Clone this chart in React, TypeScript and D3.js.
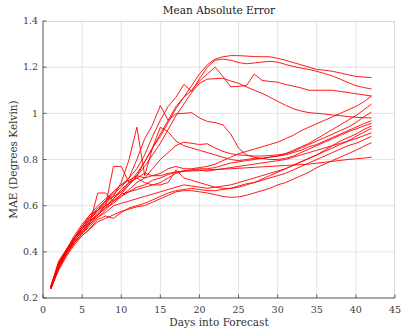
import * as d3 from 'd3'

const WIDTH = 404
const HEIGHT = 335
const MARGIN = {top: 21, right: 9, bottom: 37, left: 43}

const days = d3.range(1, 43)
const xTicks = [0, 5, 10, 15, 20, 25, 30, 35, 40, 45]
const yTicks = [0.2, 0.4, 0.6, 0.8, 1, 1.2, 1.4]

const run01 = [0.245,0.34,0.40,0.45,0.49,0.53,0.56,0.60,0.63,0.67,0.70,0.74,0.79,0.85,0.90,0.96,1.02,1.07,1.12,1.17,1.21,1.235,1.245,1.25,1.25,1.248,1.246,1.245,1.245,1.238,1.23,1.22,1.21,1.20,1.19,1.187,1.182,1.175,1.167,1.16,1.157,1.155]
const run02 = [0.25,0.35,0.41,0.46,0.50,0.54,0.58,0.62,0.66,0.69,0.72,0.76,0.82,0.90,0.97,1.03,1.07,1.125,1.095,1.15,1.2,1.23,1.235,1.23,1.22,1.215,1.218,1.222,1.225,1.222,1.212,1.203,1.196,1.19,1.182,1.172,1.162,1.148,1.133,1.12,1.112,1.105]
const run03 = [0.24,0.33,0.39,0.44,0.48,0.52,0.55,0.58,0.62,0.65,0.69,0.73,0.79,0.85,0.91,0.97,1.03,1.07,1.10,1.14,1.17,1.2,1.16,1.115,1.117,1.12,1.17,1.143,1.138,1.135,1.125,1.118,1.11,1.10,1.10,1.10,1.10,1.095,1.09,1.085,1.08,1.075]
const run04 = [0.25,0.35,0.40,0.45,0.49,0.52,0.56,0.59,0.63,0.66,0.69,0.73,0.77,0.82,0.87,0.93,0.99,1.04,1.09,1.13,1.148,1.15,1.152,1.14,1.13,1.115,1.10,1.087,1.07,1.052,1.035,1.02,1.01,1.003,1.0,0.997,0.993,0.99,0.986,0.983,0.981,0.98]
const run05 = [0.24,0.34,0.40,0.46,0.50,0.55,0.59,0.62,0.65,0.68,0.72,0.80,0.89,0.95,1.033,0.97,0.998,1.0,1.003,0.98,0.965,0.96,0.95,0.91,0.85,0.82,0.81,0.805,0.80,0.80,0.805,0.815,0.83,0.845,0.86,0.875,0.89,0.905,0.92,0.932,0.945,0.957]
const run06 = [0.245,0.35,0.41,0.47,0.52,0.56,0.58,0.60,0.77,0.77,0.70,0.72,0.74,0.73,0.74,0.76,0.77,0.76,0.76,0.765,0.77,0.78,0.795,0.81,0.825,0.835,0.845,0.855,0.865,0.875,0.89,0.905,0.925,0.94,0.955,0.97,0.985,1.0,1.015,1.03,1.05,1.075]
const run07 = [0.25,0.34,0.40,0.45,0.50,0.54,0.58,0.62,0.64,0.70,0.80,0.94,0.73,0.85,0.94,0.92,0.88,0.86,0.85,0.84,0.83,0.82,0.81,0.80,0.795,0.80,0.805,0.805,0.81,0.815,0.825,0.84,0.855,0.87,0.89,0.91,0.93,0.95,0.97,0.99,1.015,1.04]
const run08 = [0.24,0.33,0.39,0.44,0.48,0.525,0.655,0.655,0.62,0.64,0.67,0.70,0.72,0.76,0.80,0.83,0.86,0.875,0.87,0.865,0.868,0.85,0.835,0.825,0.82,0.818,0.815,0.815,0.817,0.82,0.825,0.835,0.85,0.865,0.88,0.895,0.91,0.925,0.94,0.96,0.985,1.005]
const run09 = [0.245,0.34,0.40,0.45,0.49,0.53,0.57,0.60,0.62,0.65,0.66,0.67,0.68,0.69,0.70,0.72,0.74,0.75,0.755,0.76,0.76,0.765,0.775,0.785,0.79,0.795,0.80,0.805,0.81,0.815,0.82,0.83,0.84,0.855,0.865,0.88,0.895,0.91,0.925,0.94,0.955,0.968]
const run10 = [0.24,0.33,0.39,0.44,0.48,0.51,0.55,0.57,0.60,0.61,0.62,0.63,0.64,0.65,0.66,0.67,0.68,0.69,0.685,0.68,0.675,0.68,0.685,0.69,0.70,0.71,0.72,0.73,0.74,0.75,0.76,0.775,0.79,0.805,0.82,0.84,0.86,0.88,0.895,0.91,0.93,0.945]
const run11 = [0.25,0.35,0.41,0.46,0.51,0.55,0.58,0.61,0.64,0.66,0.70,0.72,0.70,0.69,0.69,0.70,0.755,0.72,0.71,0.70,0.69,0.68,0.675,0.675,0.68,0.69,0.70,0.715,0.73,0.745,0.76,0.775,0.79,0.805,0.82,0.835,0.85,0.865,0.88,0.90,0.918,0.935]
const run12 = [0.245,0.34,0.41,0.46,0.51,0.56,0.60,0.63,0.66,0.69,0.71,0.73,0.72,0.73,0.73,0.74,0.745,0.75,0.755,0.755,0.75,0.755,0.76,0.765,0.77,0.775,0.78,0.785,0.79,0.795,0.80,0.81,0.82,0.83,0.84,0.85,0.86,0.87,0.88,0.89,0.903,0.916]
const run13 = [0.24,0.32,0.38,0.43,0.47,0.50,0.54,0.555,0.545,0.57,0.59,0.60,0.61,0.625,0.64,0.655,0.665,0.67,0.675,0.67,0.665,0.665,0.67,0.675,0.685,0.695,0.70,0.71,0.72,0.73,0.74,0.755,0.77,0.785,0.80,0.815,0.83,0.845,0.86,0.87,0.885,0.90]
const run14 = [0.24,0.33,0.39,0.44,0.47,0.50,0.53,0.545,0.56,0.575,0.585,0.595,0.60,0.615,0.63,0.645,0.66,0.665,0.665,0.66,0.655,0.648,0.64,0.636,0.638,0.645,0.655,0.665,0.675,0.69,0.70,0.715,0.73,0.745,0.765,0.78,0.795,0.81,0.825,0.84,0.857,0.873]
const run15 = [0.25,0.36,0.41,0.46,0.50,0.53,0.56,0.59,0.61,0.64,0.66,0.68,0.69,0.71,0.72,0.735,0.745,0.75,0.75,0.752,0.755,0.757,0.758,0.76,0.762,0.764,0.766,0.768,0.77,0.772,0.774,0.776,0.778,0.78,0.784,0.788,0.792,0.796,0.80,0.803,0.806,0.81]

const runs = [run01, run02, run03, run04, run05, run06, run07, run08, run09, run10, run11, run12, run13, run14, run15]

const FONT = "'DejaVu Serif', 'Liberation Serif', serif"

export default function App() {
  const boundsWidth = WIDTH - MARGIN.left - MARGIN.right
  const boundsHeight = HEIGHT - MARGIN.top - MARGIN.bottom

  const xScale = d3.scaleLinear().domain([0, 45]).range([0, boundsWidth])
  const yScale = d3.scaleLinear().domain([0.2, 1.4]).range([boundsHeight, 0])

  const line = d3
    .line<number>()
    .x((_, i) => xScale(days[i]))
    .y(d => yScale(d))

  const grid = (
    <g>
      {xTicks.slice(1, -1).map(t => (
        <line key={'gx' + t} x1={xScale(t)} x2={xScale(t)} y1={0} y2={boundsHeight} stroke="#dcdcdc" strokeWidth={0.8} />
      ))}
      {yTicks.slice(1, -1).map(t => (
        <line key={'gy' + t} x1={0} x2={boundsWidth} y1={yScale(t)} y2={yScale(t)} stroke="#dcdcdc" strokeWidth={0.8} />
      ))}
    </g>
  )

  return (
    <div style={{position: 'absolute', left: 0, top: 0}}>
      <svg width={WIDTH} height={HEIGHT} style={{display: 'block', background: '#fff', fontFamily: FONT}}>
        <text x={MARGIN.left + boundsWidth / 2} y={14} textAnchor="middle" fontSize={10.5} fill="#1a1a1a">
          Mean Absolute Error
        </text>
        <g transform={`translate(${MARGIN.left},${MARGIN.top})`}>
          {grid}
          {/* box: light top/right */}
          <line x1={0} x2={boundsWidth} y1={0.5} y2={0.5} stroke="#cfcfcf" strokeWidth={0.8} />
          <line x1={boundsWidth - 0.5} x2={boundsWidth - 0.5} y1={0} y2={boundsHeight} stroke="#cfcfcf" strokeWidth={0.8} />
          {runs.map((r, i) => (
            <path key={i} d={line(r) ?? ''} fill="none" stroke="#ff0000" strokeWidth={0.9} strokeLinejoin="round" />
          ))}
          {/* axes */}
          <line x1={0} x2={boundsWidth} y1={boundsHeight} y2={boundsHeight} stroke="#404040" strokeWidth={0.9} />
          <line x1={0} x2={0} y1={0} y2={boundsHeight} stroke="#404040" strokeWidth={0.9} />
          {xTicks.map(t => (
            <g key={'xt' + t}>
              <line x1={xScale(t)} x2={xScale(t)} y1={boundsHeight} y2={boundsHeight - 3.5} stroke="#404040" strokeWidth={0.8} />
              <text x={xScale(t)} y={boundsHeight + 15} textAnchor="middle" fontSize={9.5} fill="#404040">
                {t}
              </text>
            </g>
          ))}
          {yTicks.map(t => (
            <g key={'yt' + t}>
              <line x1={0} x2={3.5} y1={yScale(t)} y2={yScale(t)} stroke="#404040" strokeWidth={0.8} />
              <text x={-5} y={yScale(t)} dy="0.35em" textAnchor="end" fontSize={9.5} fill="#404040">
                {t}
              </text>
            </g>
          ))}
        </g>
        <text x={MARGIN.left + boundsWidth / 2} y={326} textAnchor="middle" fontSize={10.5} fill="#333">
          Days into Forecast
        </text>
        <text
          transform={`translate(17,${MARGIN.top + boundsHeight / 2}) rotate(-90)`}
          textAnchor="middle"
          fontSize={10.5}
          fill="#333">
          MAE (Degrees Kelvin)
        </text>
      </svg>
    </div>
  )
}
